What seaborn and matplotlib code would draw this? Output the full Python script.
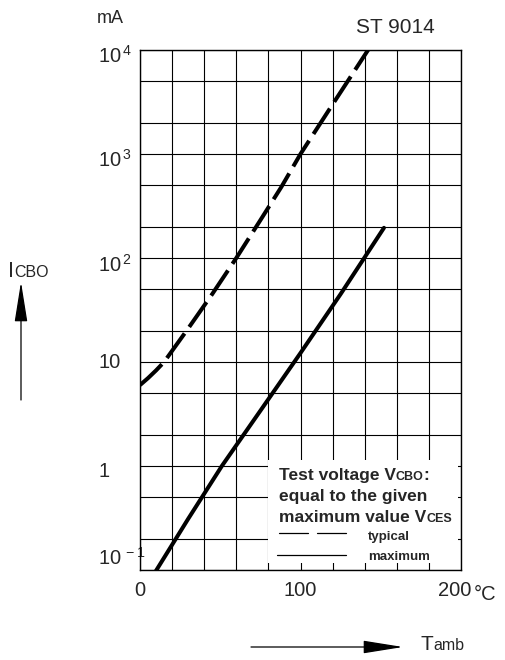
import numpy as np
import pandas as pd
import matplotlib
matplotlib.use("Agg")
import matplotlib.pyplot as plt
import matplotlib.transforms as mtrans
from matplotlib.patches import Rectangle, FancyArrowPatch
from matplotlib.ticker import FixedLocator
import seaborn as sns

# values (T in degC, I_CBO in mA)
typ_temp = [0, 5, 10, 15, 30, 45, 60, 75, 88, 100, 120, 143]
typ_icbo = [6.0, 7.0, 8.3, 10.0, 21, 45, 100, 231, 480, 1000, 3000, 10500]
max_temp = [9, 30, 51, 75, 100, 125, 152]
max_icbo = [0.093, 0.31, 1.0, 3.4, 12.2, 45, 195]

y_major = [0.1, 1, 10, 100, 1000, 10000]
y_labels = [r"$\mathregular{10^{\,-1}}$", "1", "10",
            r"$\mathregular{10^{\,2}}$", r"$\mathregular{10^{\,3}}$", r"$\mathregular{10^{\,4}}$"]
y_minor = [0.2, 0.5, 2, 5, 20, 50, 200, 500, 2000, 5000]
x_ticks = list(range(0, 201, 20))
x_labels = ["0", "", "", "", "", "100", "", "", "", "", "200"]

df_typ = pd.DataFrame({"T": typ_temp, "I": typ_icbo})
df_max = pd.DataFrame({"T": max_temp, "I": max_icbo})

sns.set_style("white")
plt.rcParams["font.family"] = ["Liberation Sans", "DejaVu Sans"]
plt.rcParams["mathtext.fontset"] = "custom"
plt.rcParams["mathtext.rm"] = "Liberation Sans"

W, H = 506, 660
fig = plt.figure(figsize=(W / 100, H / 100), dpi=100)
ax = fig.add_axes([140 / W, 90 / H, 321 / W, 520 / H])

sns.lineplot(data=df_typ, x="T", y="I", ax=ax, color="black", lw=2.9,
             linestyle=(0, (7.5, 2.0)), solid_capstyle="butt")
sns.lineplot(data=df_max, x="T", y="I", ax=ax, color="black", lw=2.9)

ax.set_yscale("log")
ax.set_xlim(0, 200)
ax.set_ylim(0.1, 10000)
ax.set_xticks(x_ticks)
ax.set_xticklabels(x_labels)
ax.set_yticks(y_major)
ax.set_yticklabels(y_labels)
ax.yaxis.set_minor_locator(FixedLocator(y_minor))
ax.yaxis.set_minor_formatter(plt.NullFormatter())
ax.grid(True, which="both", color="black", lw=0.8)
ax.set_axisbelow(True)
ax.tick_params(axis="both", which="both", length=0)
ax.tick_params(axis="x", labelsize=14.5, pad=8)
ax.tick_params(axis="y", labelsize=14.5, pad=30)
ax.set_xlabel("")
ax.set_ylabel("")
for sp in ax.spines.values():
    sp.set_color("black")
    sp.set_linewidth(1.0)

# baseline of each y label, pixels below its grid line (as in the scan)
y_label_drop = [-5, 11, 6, 14, 13, 13]
for lbl, drop in zip(ax.get_yticklabels(), y_label_drop):
    lbl.set_horizontalalignment("left")
    lbl.set_verticalalignment("baseline")
    lbl.set_transform(lbl.get_transform()
                      + mtrans.ScaledTranslation(0, -drop / 100, fig.dpi_scale_trans))
xl = ax.get_xticklabels()
xl[-1].set_transform(xl[-1].get_transform() + mtrans.ScaledTranslation(-0.06, 0, fig.dpi_scale_trans))

# white box under the legend text
ax.add_patch(Rectangle((79.8, 0.117), 198.1 - 79.8, 1.14 - 0.117,
                       facecolor="white", edgecolor="none", zorder=1.5))

renderer = fig.canvas.get_renderer()


def rich(x, y, parts, **kw):
    # parts: (text, size) pieces placed one after another on a common baseline
    for s, size in parts:
        t = fig.text(x / W, 1 - y / H, s, fontsize=size, va="baseline", ha="left", **kw)
        x += t.get_window_extent(renderer).width


rich(97, 23, [("mA", 13)])
rich(356, 33, [("ST 9014", 15)])
rich(474, 600, [("°C", 14.5)])
rich(8, 277, [("I", 15.5), ("CBO", 11.5)])
rich(421, 650, [("T", 15), ("amb", 11.5)])

rich(279, 480, [("Test voltage V", 12.5), ("CBO", 9), (":", 12.5)], fontweight="bold")
rich(279, 501, [("equal to the given", 12.5)], fontweight="bold")
rich(279, 522, [("maximum value V", 12.5), ("CES", 9)], fontweight="bold")
rich(368, 540, [("typical", 9.5)], fontweight="bold")
rich(368, 560, [("maximum", 9.5)], fontweight="bold")

fig.add_artist(plt.Line2D([279 / W, 308 / W], [1 - 533 / H] * 2, color="black", lw=0.9))
fig.add_artist(plt.Line2D([317 / W, 346 / W], [1 - 533 / H] * 2, color="black", lw=0.9))
fig.add_artist(plt.Line2D([277 / W, 346 / W], [1 - 555 / H] * 2, color="black", lw=0.9))

arrow_kw = dict(arrowstyle="-|>,head_length=2.5,head_width=0.4", color="black",
                lw=0.9, shrinkA=0, shrinkB=0, mutation_scale=10)
fig.add_artist(FancyArrowPatch((21, H - 400), (21, H - 282),
                               transform=mtrans.IdentityTransform(), **arrow_kw))
fig.add_artist(FancyArrowPatch((251, H - 647), (403, H - 647),
                               transform=mtrans.IdentityTransform(), **arrow_kw))

fig.savefig("out.png", dpi=100)
